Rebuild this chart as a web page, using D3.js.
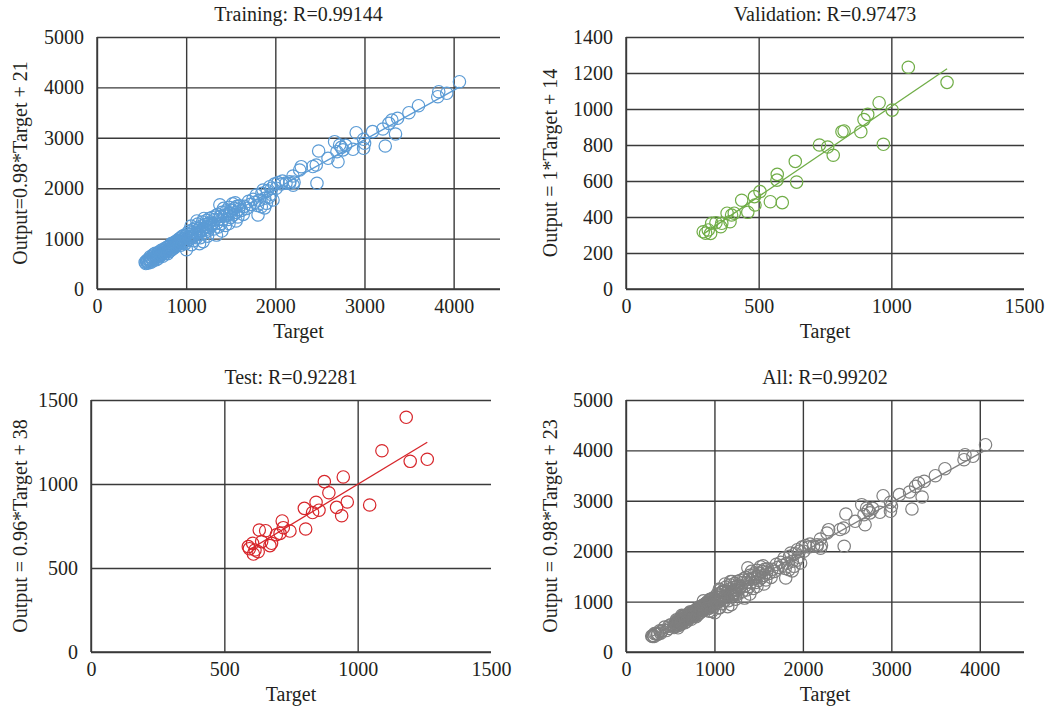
<!DOCTYPE html>
<html>
<head>
<meta charset="utf-8">
<script src="https://cdn.jsdelivr.net/npm/d3@7"></script>
<style>
  body { margin: 0; background: #fff; }
  svg { display: block; }
</style>
</head>
<body>
<div id="chart"></div>
<script>
// ---- data (target, output) ----
var trainingPoints = [
  [540,530],[548,505],[555,560],[560,520],[565,545],[572,580],[578,515],[585,600],[590,550],[596,640],
  [600,575],[606,530],[612,620],[618,590],[624,660],[630,560],[636,690],[642,620],[648,600],[654,710],
  [660,650],[666,580],[672,690],[678,640],[684,720],[690,610],[696,680],[702,740],[708,660],[714,700],
  [720,770],[726,690],[732,730],[738,650],[744,760],[750,720],[756,800],[762,700],[768,780],[774,740],
  [780,820],[786,760],[792,700],[798,840],[804,790],[810,740],[816,860],[822,810],[828,770],[834,900],
  [840,830],[846,790],[852,880],[858,850],[864,920],[870,820],[876,890],[882,940],[888,860],[894,910],
  [900,960],[906,880],[912,930],[918,990],[924,900],[930,950],[936,1010],[942,870],[948,970],[954,1040],
  [960,920],[966,990],[972,1060],[978,940],[984,1010],[990,900],[996,1050],
  [1003,780],[1010,1100],[1018,960],[1025,1020],[1032,1150],[1040,990],[1048,1080],[1055,1250],[1062,1030],
  [1070,1120],[1078,1180],[1085,960],[1092,1060],[1100,1210],[1108,1100],[1115,1020],[1122,1160],[1130,1290],
  [1138,1080],[1145,1200],[1152,1130],[1160,1020],[1168,1250],[1175,1160],[1182,1330],[1190,940],[1198,1210],
  [1205,1110],[1212,1280],[1220,1180],[1228,1360],[1235,1240],[1242,1150],[1250,1300],[1258,1400],[1265,1220],
  [1272,1330],[1280,1260],[1290,1420],[1060,880],[1150,900],[1240,1050],[1120,1350],[1200,1400],
  [1300,1300],[1310,1190],[1320,1380],[1330,1450],[1340,1070],[1345,1310],[1355,1480],[1362,1230],[1370,1380],
  [1378,1670],[1385,1440],[1392,1300],[1400,1520],[1410,1380],[1420,1600],[1430,1450],[1440,1260],[1450,1550],
  [1460,1470],[1470,1380],[1480,1620],[1490,1500],[1500,1420],[1510,1560],[1520,1690],[1530,1470],[1540,1600],
  [1550,1710],[1560,1520],[1570,1640],[1580,1430],[1590,1580],[1600,1650],[1620,1560],[1400,1150],[1480,1300],
  [1560,1350],[1640,1480],
  [1650,1640],[1680,1600],[1700,1740],[1720,1680],[1750,1780],[1770,1720],[1787,1865],[1800,1660],[1806,1468],
  [1820,1760],[1843,1633],[1850,1900],[1862,1964],[1880,1800],[1900,1700],[1910,1950],[1937,2030],[1950,1880],
  [1974,1766],[1990,2080],[2010,2000],[2030,2110],[2068,2083],[2080,2140],[2120,2100],[2161,2097],[2161,2129],
  [2198,2242],[2210,2120],[1880,1610],[1930,1820],[1960,2000],[2200,2060],
  [2273,2361],[2291,2427],[2421,2430],[2459,2460],[2467,2097],[2486,2738],[2591,2593],[2665,2923],[2691,2724],
  [2703,2526],[2721,2857],[2740,2810],[2759,2760],[2789,2850],[2871,2772],[2907,3101],[2990,2970],[3001,2891],
  [2990,2792],[3091,3122],[3206,3175],[3233,2837],[3274,3287],[3307,3353],[3348,3075],[3371,3387],[3498,3498],
  [3606,3637],[3822,3815],[3833,3915],[3923,3883],[4065,4113]
];

var validationPoints = [
  [1064,1232],[1210,1148],[954,1035],[1003,994],[911,970],[897,941],[822,878],[814,874],[885,874],[970,804],
  [729,800],[760,789],[781,743],[638,709],[570,637],[569,605],[643,594],[505,541],[484,513],[436,493],
  [544,485],[589,480],[486,467],[459,426],[408,421],[381,421],[398,411],[392,374],[361,365],[339,368],
  [323,365],[357,346],[310,328],[291,318],[319,309],[300,310]
];

var testPoints = [
  [1182,1397],[1091,1198],[1197,1135],[1261,1147],[946,1042],[875,1014],[892,948],[1045,875],[961,893],[921,861],
  [940,811],[844,891],[855,844],[831,830],[800,855],[805,732],[717,780],[721,740],[746,720],[709,706],
  [695,698],[655,722],[631,726],[677,647],[671,633],[640,657],[606,647],[590,627],[615,607],[609,583],
  [627,597],[594,615]
];

var allPoints = trainingPoints.concat(validationPoints, testPoints);

// fit coefficients
var trainingFit = [0.98, 21];
var validationFit = [1, 14];
var testFit = [0.96, 38];
var allFit = [0.98, 23];

var titles = ["Training: R=0.99144", "Validation: R=0.97473", "Test: R=0.92281", "All: R=0.99202"];
var yLabels = ["Output=0.98*Target + 21", "Output = 1*Target + 14", "Output = 0.96*Target + 38", "Output = 0.98*Target + 23"];

var ticksBig = [0, 1000, 2000, 3000, 4000];
var ticksBigY = [0, 1000, 2000, 3000, 4000, 5000];
var ticksSmall = [0, 500, 1000, 1500];
var ticksValY = [0, 200, 400, 600, 800, 1000, 1200, 1400];

var colors = ["#5b9bd5", "#70ad47", "#d7262b", "#7f7f7f"];

// ---- layout ----
var panels = [
  { pts: trainingPoints, fit: trainingFit, xMax: 4520, yMax: 5000, xt: ticksBig, yt: ticksBigY, box: [97, 37, 500, 289], lab: 70 },
  { pts: validationPoints, fit: validationFit, xMax: 1500, yMax: 1400, xt: ticksSmall, yt: ticksValY, box: [626, 37, 1024, 289], lab: 69 },
  { pts: testPoints, fit: testFit, xMax: 1500, yMax: 1500, xt: ticksSmall, yt: [0, 500, 1000, 1500], box: [91, 400, 491, 652], lab: 64 },
  { pts: allPoints, fit: allFit, xMax: 4500, yMax: 5000, xt: ticksBig, yt: ticksBigY, box: [626, 400, 1024, 652], lab: 69 }
];

var svg = d3.select("#chart").append("svg").attr("width", 1046).attr("height", 711);
svg.append("rect").attr("width", 1046).attr("height", 711).attr("fill", "#fff");

var fontSize = 20;
var fontFamily = "'Liberation Serif', 'Times New Roman', serif";
var textColor = "#231f20";
var gridColor = "#3a3a3a";

var styleText = function (sel) {
  sel.style("font-family", fontFamily).style("font-size", fontSize + "px").attr("fill", textColor);
};

panels.forEach(function (p, i) {
  var x0 = p.box[0], y0 = p.box[1], x1 = p.box[2], y1 = p.box[3];
  var w = x1 - x0, h = y1 - y0;
  var x = d3.scaleLinear().domain([0, p.xMax]).range([0, w]);
  var y = d3.scaleLinear().domain([0, p.yMax]).range([h, 0]);
  var g = svg.append("g").attr("transform", "translate(" + x0 + "," + y0 + ")");

  // y axis with horizontal grid
  var ya = g.append("g").call(d3.axisLeft(y).tickValues(p.yt).tickFormat(d3.format("d")).tickSize(-w).tickPadding(13));
  ya.select(".domain").remove();
  ya.selectAll("line").attr("stroke", gridColor).attr("stroke-width", 1.4);
  ya.selectAll("text").call(styleText);

  // x axis with vertical grid
  var xa = g.append("g").attr("transform", "translate(0," + h + ")")
    .call(d3.axisBottom(x).tickValues(p.xt).tickFormat(d3.format("d")).tickSize(-h).tickPadding(10));
  xa.select(".domain").remove();
  xa.selectAll("line").attr("stroke", gridColor).attr("stroke-width", 1.4)
    .attr("display", function (d) { return d >= p.xMax ? "none" : null; });
  xa.selectAll("text").call(styleText);

  // left + bottom axis lines
  g.append("line").attr("x1", 0).attr("x2", 0).attr("y1", 0).attr("y2", h)
    .attr("stroke", gridColor).attr("stroke-width", 1.4);
  g.append("line").attr("x1", 0).attr("x2", w).attr("y1", h).attr("y2", h)
    .attr("stroke", gridColor).attr("stroke-width", 1.4);

  // fit line over the target range
  var ext = d3.extent(p.pts, function (d) { return d[0]; });
  g.append("line")
    .attr("x1", x(ext[0])).attr("y1", y(p.fit[0] * ext[0] + p.fit[1]))
    .attr("x2", x(ext[1])).attr("y2", y(p.fit[0] * ext[1] + p.fit[1]))
    .attr("stroke", colors[i]).attr("stroke-width", 1.3);

  // points
  g.selectAll("circle.pt").data(p.pts).enter().append("circle")
    .attr("class", "pt")
    .attr("cx", function (d) { return x(d[0]); })
    .attr("cy", function (d) { return y(d[1]); })
    .attr("r", 6.2)
    .attr("fill", "none")
    .attr("stroke", colors[i])
    .attr("stroke-width", 1.2);

  // title
  g.append("text").attr("x", w / 2).attr("y", -16)
    .attr("text-anchor", "middle").call(styleText).text(titles[i]);

  // x label
  g.append("text").attr("x", w / 2).attr("y", h + 49)
    .attr("text-anchor", "middle").call(styleText).text("Target");

  // y label
  g.append("text").attr("transform", "translate(" + (-p.lab) + "," + (h / 2) + ") rotate(-90)")
    .attr("text-anchor", "middle").call(styleText).text(yLabels[i]);
});
</script>
</body>
</html>
